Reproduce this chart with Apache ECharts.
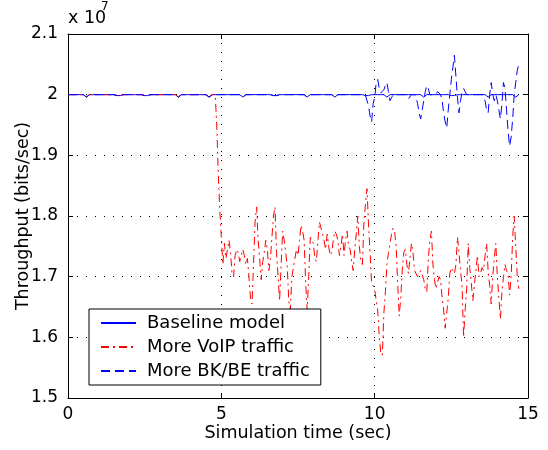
<!DOCTYPE html>
<html>
<head>
<meta charset="utf-8">
<script src="https://cdn.jsdelivr.net/npm/echarts@6/dist/echarts.min.js"></script>
<style>
html,body{margin:0;padding:0;background:#fff;}
#chart{width:548px;height:450px;}
</style>
</head>
<body>
<div id="chart"></div>
<script>
// Sampling step of the simulation trace (seconds)
const SAMPLE_STEP = 0.05;

// Throughput values, in units of 1e7 bits/sec, one row per second
const BASELINE = [
  2,2,2,2,2,2,2,2,2,2,2,1.9985,1.996,1.9985,2,2,2,2,2,2,
  2,2,2,2,2,2,2,2,2,2,2,2,1.9985,1.996,1.9985,2,2,2,2,2,
  2,2,2,2,2,2,2,2,2,2,1.9985,1.996,1.9985,2,2,2,2,2,2,2,
  2,2,2,2,2,2,2,2,2,2,2,1.9985,1.996,1.9985,2,2,2,2,2,2,
  2,2,2,2,2,2,2,2,2,2,2,1.9985,1.996,1.9985,2,2,2,2,2,2,
  2,2,2,2,2,2,2,2,2,2,2,2,2,1.9985,1.996,1.9985,2,2,2,2,
  2,2,2,2,2,2,2,2,2,2,2,2,2,2,1.9985,1.996,1.9985,2,2,2,
  2,2,2,2,2,2,2,2,2,2,2,2,2,2,2,1.9985,1.996,1.9985,2,2,
  2,2,2,2,2,2,2,2,2,2,2,2,2,1.9985,1.996,1.9985,2,2,2,2,
  2,2,2,2,2,2,2,2,2,2,2,2,2,2,1.9985,1.996,1.9985,2,2,2,
  2,2,2,2,2,2,2,1.9985,1.996,1.9985,2,2,2,2,2,2,2,2,2,2,
  2,2,2,2,2,2,2,2,2,2,2,1.9985,1.996,1.9985,2,2,2,2,2,2,
  2,2,2,2,2,2,2,2,2,2,1.9985,1.996,1.9985,2,2,2,2,2,2,2,
  2,2,2,2,2,2,2,2,2,2,2,2,2,1.9985,1.996,1.9985,2,2,2,2,
  2,2,2,2,2,2,2,2,2,2,2,1.9985,1.996,1.9985,2
];

const MORE_VOIP = [
  2,2,2,2,2,2,2,2,2,2,2,1.9985,1.996,1.9985,2,2,2,2,2,2,
  2,2,2,2,2,2,2,2,2,2,2,2,1.9985,1.996,1.9985,2,2,2,2,2,
  2,2,2,2,2,2,2,2,2,2,1.9985,1.996,1.9985,2,2,2,2,2,2,2,
  2,2,2,2,2,2,2,2,2,2,2,1.9985,1.996,1.9985,2,2,2,2,2,2,
  2,2,2,2,2,2,2,2,2,2,2,1.9985,1.996,1.9985,2,2,2,1.95,1.87,1.81,
  1.765,1.72,1.755,1.73,1.745,1.76,1.74,1.705,1.70,1.735,1.745,1.74,1.725,1.735,1.745,1.735,1.72,1.73,1.70,1.665,
  1.655,1.72,1.79,1.815,1.76,1.73,1.695,1.725,1.74,1.76,1.745,1.71,1.73,1.765,1.80,1.815,1.74,1.70,1.66,1.72,
  1.775,1.76,1.74,1.715,1.66,1.645,1.70,1.715,1.73,1.745,1.735,1.76,1.785,1.775,1.76,1.69,1.645,1.70,1.765,1.76,
  1.755,1.73,1.725,1.76,1.79,1.78,1.77,1.76,1.745,1.77,1.75,1.735,1.74,1.76,1.775,1.77,1.76,1.735,1.75,1.77,
  1.735,1.76,1.775,1.75,1.745,1.725,1.71,1.745,1.77,1.80,1.75,1.725,1.72,1.79,1.82,1.845,1.785,1.74,1.69,1.685,
  1.68,1.66,1.645,1.60,1.575,1.57,1.64,1.675,1.72,1.74,1.755,1.77,1.78,1.775,1.75,1.69,1.635,1.665,1.71,1.74,
  1.745,1.72,1.705,1.73,1.755,1.74,1.71,1.705,1.70,1.705,1.71,1.71,1.695,1.68,1.675,1.73,1.76,1.775,1.72,1.695,
  1.68,1.69,1.70,1.695,1.665,1.645,1.615,1.64,1.665,1.705,1.715,1.71,1.705,1.72,1.765,1.74,1.71,1.685,1.60,1.645,
  1.68,1.755,1.715,1.69,1.66,1.685,1.71,1.735,1.70,1.705,1.715,1.71,1.735,1.755,1.71,1.685,1.655,1.70,1.73,1.755,
  1.70,1.665,1.63,1.675,1.70,1.72,1.71,1.705,1.67,1.70,1.765,1.80,1.75,1.70,1.68
];

const MORE_BKBE = [
  2,2,2,2,2,2,2,2,2,2,2,1.9985,1.996,1.9985,2,2,2,2,2,2,
  2,2,2,2,2,2,2,2,2,2,2,2,1.9985,1.996,1.9985,2,2,2,2,2,
  2,2,2,2,2,2,2,2,2,2,1.9985,1.996,1.9985,2,2,2,2,2,2,2,
  2,2,2,2,2,2,2,2,2,2,2,1.9985,1.996,1.9985,2,2,2,2,2,2,
  2,2,2,2,2,2,2,2,2,2,2,1.9985,1.996,1.9985,2,2,2,2,2,2,
  2,2,2,2,2,2,2,2,2,2,2,2,2,1.9985,1.996,1.9985,2,2,2,2,
  2,2,2,2,2,2,2,2,2,2,2,2,2,2,1.9985,1.996,1.9985,2,2,2,
  2,2,2,2,2,2,2,2,2,2,2,2,2,2,2,1.9985,1.996,1.9985,2,2,
  2,2,2,2,2,2,2,2,2,2,2,2,2,1.9985,1.996,1.9985,2,2,2,2,
  2,2,2,2,2,2,2,2,2,2,2,2,2,2,1.9985,1.996,1.982,1.965,1.955,1.985,
  1.995,2.02,2.025,2.01,2.003,2,2.008,2.015,2.02,2.005,1.99,1.995,2,2,2,2,2,2,2,2,
  2,1.998,1.993,1.99,2,2,2,1.995,1.985,1.97,1.96,1.975,1.99,2.005,2.015,2.01,2,2,2,2,
  2,2.005,2.005,2,1.99,1.97,1.955,1.945,1.975,2,2.025,2.045,2.065,2.03,1.995,1.97,1.99,2.005,2.01,2.005,
  2,2,2,2,2,2,2,2,2,2,2,2,1.99,1.975,1.97,2,2.02,2,1.99,2,
  1.99,1.975,1.96,1.985,2.02,2.01,1.975,1.94,1.915,1.93,1.96,2,2.02,2.04,2.05
];

const SERIES_NAMES = ['Baseline model', 'More VoIP traffic', 'More BK/BE traffic'];
const X_TICKS = { min: 0, max: 15, interval: 5 };
const Y_TICKS = { min: 1.5, max: 2.1, interval: 0.1 };

function toPairs(vals) {
  return vals.map((v, i) => [+(i * SAMPLE_STEP).toFixed(2), v]);
}

const FONT = 'DejaVu Sans';
const chart = echarts.init(document.getElementById('chart'), null, { renderer: 'canvas' });

const baseX = {
  type: 'value', min: X_TICKS.min, max: X_TICKS.max, interval: X_TICKS.interval
};
const baseY = {
  type: 'value', min: Y_TICKS.min, max: Y_TICKS.max, interval: Y_TICKS.interval
};

const option = {
  backgroundColor: '#fff',
  animation: false,
  grid: { left: 68, top: 34, right: 20, bottom: 52, containLabel: false },
  xAxis: [
    Object.assign({}, baseX, {
      position: 'bottom',
      axisLine: { show: true, onZero: false, lineStyle: { color: '#000', width: 1 } },
      axisTick: { show: true, inside: true, length: 5, lineStyle: { color: '#000' } },
      axisLabel: { color: '#000', fontSize: 17, fontFamily: FONT, margin: 8 },
      splitLine: { show: true, lineStyle: { color: '#000', width: 1, type: [1, 8] } },
      name: 'Simulation time (sec)', nameLocation: 'middle', nameGap: 26,
      nameMoveOverlap: false,
      nameTextStyle: { color: '#000', fontSize: 17.5, fontFamily: FONT }
    }),
    Object.assign({}, baseX, {
      position: 'top',
      axisLine: { show: true, onZero: false, lineStyle: { color: '#000', width: 1 } },
      axisTick: { show: true, inside: true, length: 5, lineStyle: { color: '#000' } },
      axisLabel: { show: false },
      splitLine: { show: false }
    })
  ],
  yAxis: [
    Object.assign({}, baseY, {
      position: 'left',
      axisLine: { show: true, onZero: false, lineStyle: { color: '#000', width: 1 } },
      axisTick: { show: true, inside: true, length: 5, lineStyle: { color: '#000' } },
      axisLabel: {
        color: '#000', fontSize: 17, fontFamily: FONT, margin: 10,
        formatter: v => String(Number(v.toFixed(1)))
      },
      splitLine: { show: true, lineStyle: { color: '#000', width: 1, type: [1, 8] } },
      name: 'Throughput (bits/sec)', nameLocation: 'middle', nameGap: 36,
      nameMoveOverlap: false,
      nameTextStyle: { color: '#000', fontSize: 17.5, fontFamily: FONT }
    }),
    Object.assign({}, baseY, {
      position: 'right',
      axisLine: { show: true, onZero: false, lineStyle: { color: '#000', width: 1 } },
      axisTick: { show: true, inside: true, length: 5, lineStyle: { color: '#000' } },
      axisLabel: { show: false },
      splitLine: { show: false }
    })
  ],
  legend: {
    orient: 'vertical',
    left: 89, top: 309,
    padding: [5, 11, 5, 11],
    itemGap: 6,
    itemWidth: 35, itemHeight: 12,
    backgroundColor: '#fff',
    borderColor: '#000', borderWidth: 1, borderRadius: 0,
    itemStyle: { opacity: 0, borderWidth: 0 },
    textStyle: { color: '#000', fontSize: 18, fontFamily: FONT, padding: [0, 0, 0, 6] },
    data: SERIES_NAMES
  },
  graphic: [
    { type: 'text', left: 68, top: 9, style: { text: 'x 10', fill: '#000', font: '17.5px "DejaVu Sans"' } },
    { type: 'text', left: 101, top: 1, style: { text: '7', fill: '#000', font: '12px "DejaVu Sans"' } }
  ],
  series: [
    {
      name: SERIES_NAMES[0], type: 'line', data: toPairs(BASELINE),
      symbol: 'none', showSymbol: false, sampling: null,
      lineStyle: { color: '#0000ff', width: 1, type: 'solid' },
      itemStyle: { color: '#0000ff' }
    },
    {
      name: SERIES_NAMES[1], type: 'line', data: toPairs(MORE_VOIP),
      symbol: 'none', showSymbol: false,
      lineStyle: { color: '#ff0000', width: 1, type: [8, 4, 2, 4] },
      itemStyle: { color: '#ff0000' }
    },
    {
      name: SERIES_NAMES[2], type: 'line', data: toPairs(MORE_BKBE),
      symbol: 'none', showSymbol: false,
      lineStyle: { color: '#0000ff', width: 1, type: [9, 5] },
      itemStyle: { color: '#0000ff' }
    }
  ]
};

chart.setOption(option);
</script>
</body>
</html>
